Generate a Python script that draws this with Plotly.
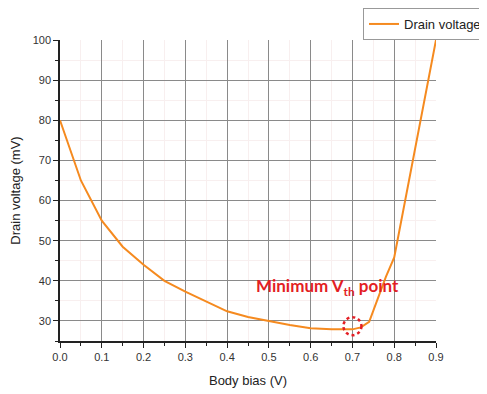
import plotly.graph_objects as go

body_bias = [0, 0.05, 0.1, 0.15, 0.2, 0.25, 0.3, 0.35, 0.4, 0.45, 0.5, 0.55, 0.6, 0.65,
             0.7, 0.72, 0.74, 0.76, 0.78, 0.8, 0.85, 0.9]
drain_voltage = [80, 65, 55, 48.5, 44, 40, 37.3, 34.8, 32.4, 31, 30, 29, 28.2, 27.9,
                 27.9, 28.4, 29.8, 35.3, 41, 45.8, 73, 100]
x_ticks = [0.0, 0.1, 0.2, 0.3, 0.4, 0.5, 0.6, 0.7, 0.8, 0.9]
x_tick_labels = ["0.0", "0.1", "0.2", "0.3", "0.4", "0.5", "0.6", "0.7", "0.8", "0.9"]
y_ticks = [30, 40, 50, 60, 70, 80, 90, 100]
min_point = (0.7, 28.7)

orange = "#F58A1F"
fig = go.Figure()
fig.add_trace(go.Scatter(x=body_bias, y=drain_voltage, mode="lines", name="Drain voltage",
                         line=dict(color=orange, width=2)))

axis_common = dict(
    showline=True, linecolor="#222", linewidth=1.5,
    ticks="outside", ticklen=5, tickcolor="#222",
    showgrid=True, gridcolor="#8a8a8a", gridwidth=1,
    zeroline=False, automargin=False,
    tickfont=dict(family="Liberation Sans, Arial", size=11, color="#333"),
    title_font=dict(family="Liberation Sans, Arial", size=13, color="#222"),
)
fig.update_xaxes(**axis_common, range=[0, 0.9], tickvals=x_ticks, ticktext=x_tick_labels,
                 title_text="Body bias (V)", title_standoff=14,
                 minor=dict(dtick=0.05, ticks="outside", ticklen=3, tickcolor="#222",
                            showgrid=True, gridcolor="#f8efef"))
fig.update_yaxes(**axis_common, range=[25, 100], tickvals=y_ticks,
                 title_text="Drain voltage (mV)", title_standoff=10,
                 minor=dict(dtick=5, tick0=0, ticks="outside", ticklen=3, tickcolor="#222",
                            showgrid=True, gridcolor="#f8efef"))

fig.add_annotation(x=0.64, y=38.5, xref="x", yref="y", showarrow=False,
                   text="<b>Minimum V<sub>th</sub> point</b>",
                   font=dict(family="Lato, Liberation Sans", size=17, color="#E31E24"))
fig.add_shape(type="circle", xref="x", yref="y", xsizemode="pixel", ysizemode="pixel",
              xanchor=min_point[0], yanchor=min_point[1], x0=-9, x1=9, y0=-9, y1=9,
              line=dict(color="#E31E24", width=2.5, dash="dot"))

fig.update_layout(
    width=479, height=386,
    margin=dict(l=52, r=51, t=32, b=53, autoexpand=False),
    plot_bgcolor="white", paper_bgcolor="white",
    showlegend=True,
    legend=dict(x=1.0, y=1.0, xref="container", yref="container", xanchor="right", yanchor="top",
                bordercolor="#999", borderwidth=1, bgcolor="white",
                font=dict(family="Liberation Sans, Arial", size=13, color="#222"),
                itemwidth=30, tracegroupgap=0),
)
fig.write_html("out.html")
